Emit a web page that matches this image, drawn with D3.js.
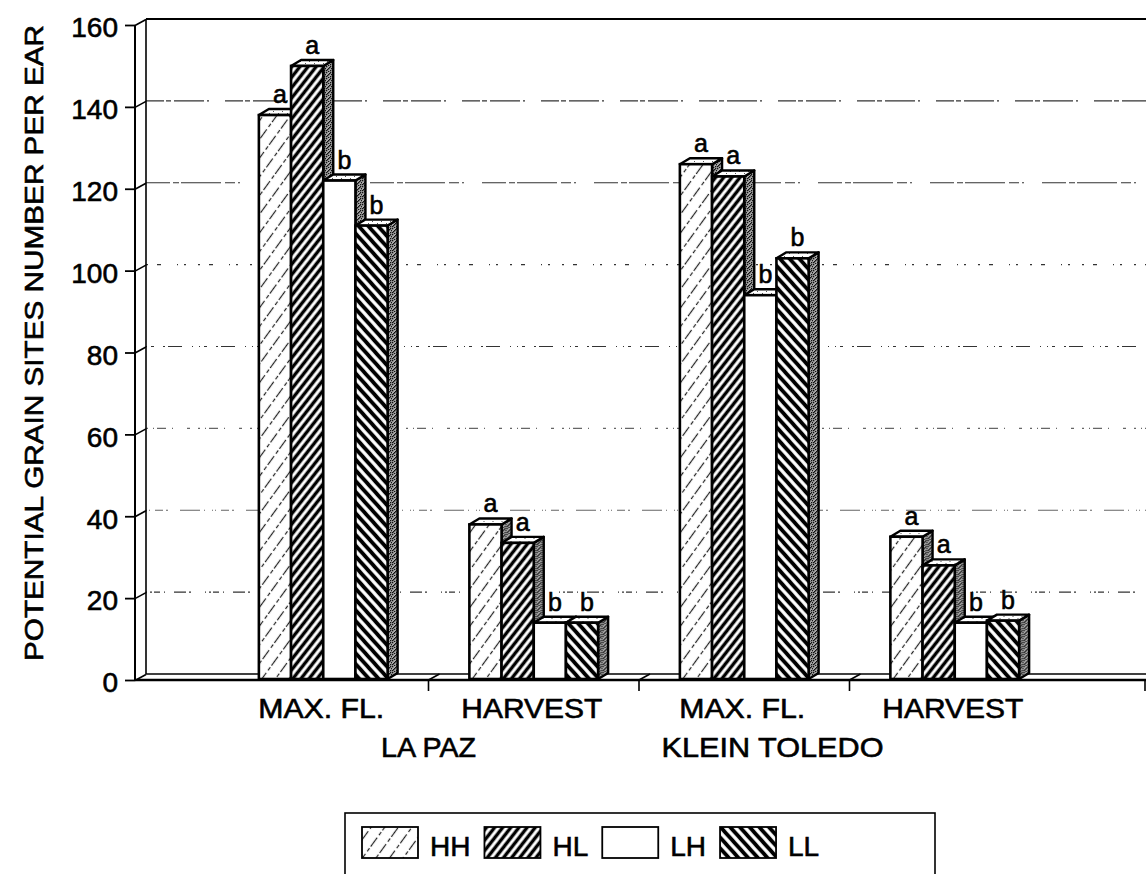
<!DOCTYPE html>
<html>
<head>
<meta charset="utf-8">
<script src="https://cdnjs.cloudflare.com/ajax/libs/d3/7.8.5/d3.min.js"></script>
<style>
body { margin: 0; background: #fff; }
text { font-family: Arial, "Liberation Sans", sans-serif; fill: #000; stroke: #000; stroke-width: 0.6px; }
</style>
</head>
<body>
<svg id="chart" width="1146" height="874"></svg>
<script>

// values
var sites = ["LA PAZ", "KLEIN TOLEDO"];
var stages = ["MAX. FL.", "HARVEST"];
var treatments = ["HH", "HL", "LH", "LL"];
var laPazMaxFl = [138, 150, 122, 111];
var laPazHarvest = [38, 33.5, 14, 14];
var kleinMaxFl = [126, 123, 94, 103];
var kleinHarvest = [35, 28, 14, 14.5];
var letters = ["a", "a", "b", "b"];
var yTicks = [0, 20, 40, 60, 80, 100, 120, 140, 160];

var groups = [
    {site: sites[0], stage: stages[0], values: laPazMaxFl},
    {site: sites[0], stage: stages[1], values: laPazHarvest},
    {site: sites[1], stage: stages[0], values: kleinMaxFl},
    {site: sites[1], stage: stages[1], values: kleinHarvest}
];
groups.forEach(function (g, i) { g.key = i; });

var svg = d3.select("#chart");
var defs = svg.append("defs");

var frontX = 135, backX = 146, rightX = 1146;
var DX = 11, DY = -6;     // depth of the wall
var BDX = 10, BDY = -6;   // depth of the bars

var y = d3.scaleLinear().domain([0, 160]).range([680, 25]);
var x0 = d3.scaleBand().domain(groups.map(function (d) { return d.key; }))
    .range([218, 1060]);
var x1 = d3.scaleBand().domain(treatments)
    .range([0, x0.bandwidth()]).paddingOuter(1.27);

// ---- patterns
function hatch(id, angle, gap, width, color, dash) {
    var p = defs.append("pattern")
        .attr("id", id)
        .attr("patternUnits", "userSpaceOnUse")
        .attr("width", gap).attr("height", 20)
        .attr("patternTransform", "rotate(" + angle + ")");
    p.append("rect").attr("width", gap).attr("height", 20).attr("fill", "#fff");
    var l = p.append("line")
        .attr("x1", gap / 2).attr("y1", 0)
        .attr("x2", gap / 2).attr("y2", 20)
        .attr("stroke", color)
        .attr("stroke-width", width);
    if (dash) l.attr("stroke-dasharray", dash);
}
hatch("pHH", 36, 11, 1.2, "#222", "7,2,4,3");
hatch("pHL", 38, 6.4, 3.4, "#000");
hatch("pLL", -42, 7.2, 3.9, "#000");

var stip = defs.append("pattern")
    .attr("id", "stipple")
    .attr("patternUnits", "userSpaceOnUse")
    .attr("width", 6).attr("height", 6);
stip.append("rect").attr("width", 6).attr("height", 6).attr("fill", "#a8a8a8");
[[0, 0], [3, 1], [1, 3], [4, 4], [5, 2], [2, 5], [0, 4], [4, 0], [2, 2]].forEach(function (p) {
    stip.append("rect").attr("x", p[0]).attr("y", p[1])
        .attr("width", 1.3).attr("height", 1.3).attr("fill", "#111");
});

var topStip = defs.append("pattern")
    .attr("id", "topstip")
    .attr("patternUnits", "userSpaceOnUse")
    .attr("width", 9).attr("height", 5);
topStip.append("rect").attr("width", 9).attr("height", 5).attr("fill", "#fff");
[[1, 1], [6, 3]].forEach(function (p) {
    topStip.append("rect").attr("x", p[0]).attr("y", p[1])
        .attr("width", 1).attr("height", 1).attr("fill", "#555");
});

// ---- back wall gridlines (broken, scanned look)
var dashes = ["1,3,2,2,6,4,1,9,12,3,2,14", "1,2,1,5,8,3,2,12,20,4,1,7", "2,5,1,3,9,6,1,14,3,8",
    "1,4,3,9,2,3,14,10,1,6", "2,9,4,16,1,6,2,12", "24,3,6,2,40,4,10,3,2,18", "18,2,5,3,30,3,2,16",
    "1,6,2,9,1,12,4,7,1,20"];
svg.append("g").selectAll("line")
    .data(yTicks.filter(function (d) { return d > 0 && d < 160; }))
    .enter().append("line")
    .attr("x1", backX).attr("x2", rightX)
    .attr("y1", function (d) { return y(d) + DY; })
    .attr("y2", function (d) { return y(d) + DY; })
    .attr("stroke", function (d) { return (d == 40 || d == 60) ? "#666" : "#333"; })
    .attr("stroke-width", function (d) { return (d == 40 || d == 60) ? 1.2 : 1.1; })
    .attr("stroke-dasharray", function (d, i) { return dashes[i]; });

// wall frame
var frame = svg.append("g").attr("stroke", "#000").attr("fill", "none");
frame.append("line").attr("x1", backX).attr("x2", rightX)
    .attr("y1", y(160) + DY).attr("y2", y(160) + DY).attr("stroke-width", 2);
frame.append("line").attr("x1", backX).attr("x2", backX)
    .attr("y1", y(160) + DY).attr("y2", y(0) + DY).attr("stroke-width", 1.6);
frame.append("line").attr("x1", frontX).attr("x2", frontX)
    .attr("y1", y(160)).attr("y2", y(0)).attr("stroke-width", 2);

// floor
frame.append("line").attr("x1", backX).attr("x2", rightX)
    .attr("y1", y(0) + DY).attr("y2", y(0) + DY).attr("stroke-width", 1.5);
frame.append("line").attr("x1", frontX).attr("x2", rightX)
    .attr("y1", y(0)).attr("y2", y(0)).attr("stroke-width", 2.5);

var bounds = groups.slice(1).map(function (g) { return x0(g.key); });
frame.selectAll(".sep").data(bounds).enter().append("path")
    .attr("class", "sep")
    .attr("stroke-width", 1.6)
    .attr("d", function (d) {
        return "M" + (d + DX) + "," + (y(0) + DY) + "L" + d + "," + y(0) + "L" + d + "," + (y(0) + 11);
    });
frame.append("line").attr("x1", rightX - 1).attr("x2", rightX - 1)
    .attr("y1", y(0)).attr("y2", y(0) + 11).attr("stroke-width", 1.6);

// ---- y axis
var yAxis = svg.append("g")
    .attr("transform", "translate(" + frontX + ",0)")
    .call(d3.axisLeft(y).tickValues(yTicks).tickSize(10).tickPadding(7));
yAxis.select(".domain").remove();
yAxis.selectAll(".tick line").attr("stroke", "#000").attr("stroke-width", 1.8);
yAxis.selectAll(".tick text")
    .style("font-family", "Arial, 'Liberation Sans', sans-serif")
    .style("font-size", "28px")
    .attr("dy", "0.42em");
yAxis.selectAll(".tick").append("line")
    .attr("x1", 0).attr("y1", 0).attr("x2", DX).attr("y2", DY)
    .attr("stroke", "#000").attr("stroke-width", 1.6);

svg.append("text")
    .attr("transform", "translate(43,343) rotate(-90)")
    .attr("text-anchor", "middle")
    .attr("textLength", 636)
    .attr("lengthAdjust", "spacingAndGlyphs")
    .style("font-size", "25px")
    .text("POTENTIAL GRAIN SITES NUMBER PER EAR");

// ---- bars
var fills = {HH: "url(#pHH)", HL: "url(#pHL)", LH: "#fff", LL: "url(#pLL)"};

var group = svg.selectAll(".grp")
    .data(groups)
    .enter().append("g")
    .attr("class", "grp")
    .attr("transform", function (d) { return "translate(" + x0(d.key) + ",0)"; });

var bar = group.selectAll(".bar")
    .data(function (g) {
        return g.values.map(function (v, i) {
            return {t: treatments[i], v: v, letter: letters[i]};
        });
    })
    .enter().append("g")
    .attr("class", "bar");

var w = x1.bandwidth();
var base = y(0) - 1;

bar.append("path")
    .attr("fill", "url(#stipple)")
    .attr("stroke", "#000").attr("stroke-width", 2.4).attr("stroke-linejoin", "round")
    .attr("d", function (d) {
        var x = x1(d.t), yt = y(d.v);
        return "M" + (x + w) + "," + yt + "L" + (x + w + BDX) + "," + (yt + BDY) +
            "L" + (x + w + BDX) + "," + (base + BDY) + "L" + (x + w) + "," + base + "Z";
    });
bar.append("path")
    .attr("fill", "url(#topstip)")
    .attr("stroke", "#000").attr("stroke-width", 2.4).attr("stroke-linejoin", "round")
    .attr("d", function (d) {
        var x = x1(d.t), yt = y(d.v);
        return "M" + x + "," + yt + "L" + (x + BDX) + "," + (yt + BDY) +
            "L" + (x + w + BDX) + "," + (yt + BDY) + "L" + (x + w) + "," + yt + "Z";
    });
bar.append("rect")
    .attr("x", function (d) { return x1(d.t); })
    .attr("y", function (d) { return y(d.v); })
    .attr("width", w)
    .attr("height", function (d) { return base - y(d.v); })
    .attr("fill", function (d) { return fills[d.t]; })
    .attr("stroke", "#000").attr("stroke-width", 2.6);

bar.append("text")
    .attr("x", function (d) { return x1(d.t) + w / 2 + BDX / 2; })
    .attr("y", function (d) { return y(d.v) + BDY - 6; })
    .attr("text-anchor", "middle")
    .style("font-size", "25px")
    .text(function (d) { return d.letter; });

// ---- category labels
svg.selectAll(".stage").data(groups).enter().append("text")
    .attr("class", "stage")
    .attr("x", function (d) { return x0(d.key) + x0.bandwidth() / 2 - 2; })
    .attr("y", 718)
    .attr("text-anchor", "middle")
    .attr("textLength", function (d) { return d.stage == "HARVEST" ? 141 : 126; })
    .attr("lengthAdjust", "spacingAndGlyphs")
    .style("font-size", "28px")
    .text(function (d) { return d.stage; });

svg.append("text")
    .attr("x", x0(1))
    .attr("y", 757)
    .attr("text-anchor", "middle")
    .style("font-size", "28px")
    .attr("textLength", 95)
    .attr("lengthAdjust", "spacingAndGlyphs")
    .text(sites[0]);
svg.append("text")
    .attr("x", x0(3) - 77)
    .attr("y", 757)
    .attr("text-anchor", "middle")
    .style("font-size", "28px")
    .attr("textLength", 222)
    .attr("lengthAdjust", "spacingAndGlyphs")
    .text(sites[1]);

// ---- legend
var legend = svg.append("g");
legend.append("rect")
    .attr("x", 345).attr("y", 813)
    .attr("width", 590).attr("height", 80)
    .attr("fill", "none").attr("stroke", "#000").attr("stroke-width", 1.6);

var lx = 362;
treatments.forEach(function (t) {
    legend.append("rect")
        .attr("x", lx).attr("y", 827)
        .attr("width", 56).attr("height", 31)
        .attr("fill", fills[t])
        .attr("stroke", "#000").attr("stroke-width", 1.8);
    var txt = legend.append("text")
        .attr("x", lx + 68).attr("y", 856)
        .style("font-size", "28px")
        .text(t);
    lx = lx + 68 + txt.node().getComputedTextLength() + 14;
});

</script>
</body>
</html>
